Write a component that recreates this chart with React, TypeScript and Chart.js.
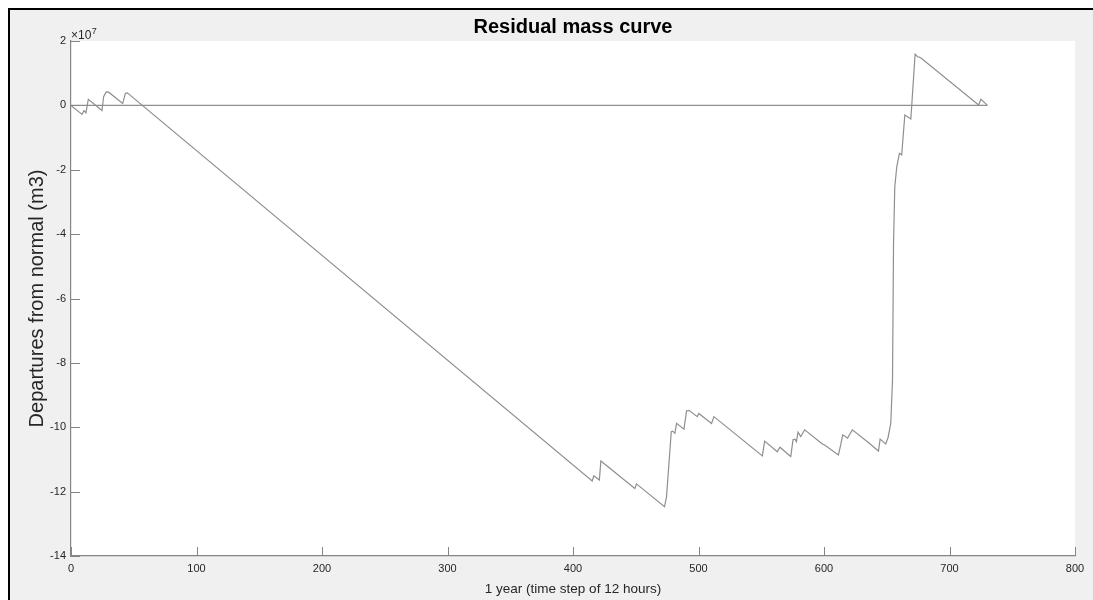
import { useEffect, useRef } from "react";
import { Chart, registerables } from "chart.js";

Chart.register(...registerables);

const TITLE = "Residual mass curve";
const X_LABEL = "1 year (time step of 12 hours)";
const Y_LABEL = "Departures from normal (m3)";
const Y_EXPONENT = 7;

const X_TICKS = [0, 100, 200, 300, 400, 500, 600, 700, 800];
const Y_TICKS = [-14, -12, -10, -8, -6, -4, -2, 0, 2];

// time step index (12 h steps)
const timeSteps = [
  0, 8.8, 10.4, 11.9, 13.8, 24.7, 26, 28, 30, 41.2, 43.3, 44.9,
  415.3, 416.6, 421, 422.2, 449.3, 450.6, 472.9, 474.5, 478.3, 479.4,
  481.2, 482.5, 488.4, 490.5, 492.6, 499, 500.3, 510.4, 512.3, 550.9,
  552.7, 562.8, 564.9, 573.5, 575.3, 576.9, 578, 579.3, 581.5, 584.6,
  598.7, 600.5, 611.5, 613.3, 614.9, 616.5, 618.7, 622.6, 634.6, 643.4,
  644.7, 649.2, 651.1, 653.2, 654.6, 655.4, 656.4, 658, 660.1, 661.9,
  664.4, 669.2, 672.6, 674.5, 676, 678, 723.2, 725, 730.3,
];

// departures from normal, in units of 1e7 m3
const departuresE7 = [
  0, -0.28, -0.16, -0.23, 0.19, -0.16, 0.27, 0.42, 0.41, 0.06, 0.37, 0.39,
  -11.67, -11.51, -11.64, -11.05, -11.9, -11.76, -12.47, -12.17, -10.14, -10.12,
  -10.19, -9.88, -10.06, -9.49, -9.48, -9.67, -9.57, -9.88, -9.67, -10.89,
  -10.43, -10.76, -10.62, -10.91, -10.39, -10.37, -10.45, -10.15, -10.29, -10.08,
  -10.52, -10.55, -10.86, -10.55, -10.24, -10.27, -10.34, -10.08, -10.45, -10.74,
  -10.37, -10.52, -10.31, -9.88, -8.53, -4.3, -2.53, -1.9, -1.49, -1.54,
  -0.3, -0.42, 1.59, 1.51, 1.5, 1.45, 0.01, 0.19, 0,
];

const zeroLineX = [0, 730];
const zeroLineY = [0, 0];

const FONT = '"Liberation Sans", Arial, Helvetica, sans-serif';
const AXIS_COLOR = "#858585";
const LINE_COLOR = "#8f8f8f";
const TEXT_COLOR = "#262626";

const decorations = {
  id: "decorations",
  beforeDraw(chart: any) {
    const { ctx, chartArea } = chart;
    ctx.save();
    ctx.fillStyle = "#ffffff";
    ctx.fillRect(chartArea.left, chartArea.top, chartArea.right - chartArea.left, chartArea.bottom - chartArea.top);
    ctx.restore();
  },
  afterDraw(chart: any) {
    const { ctx, chartArea, scales } = chart;
    ctx.save();
    ctx.strokeStyle = AXIS_COLOR;
    ctx.lineWidth = 1;
    ctx.beginPath();
    for (const v of X_TICKS) {
      const px = Math.round(scales.x.getPixelForValue(v)) + 0.5;
      ctx.moveTo(px, chartArea.bottom);
      ctx.lineTo(px, chartArea.bottom - 9);
    }
    for (const v of Y_TICKS) {
      const py = Math.round(scales.y.getPixelForValue(v)) + 0.5;
      ctx.moveTo(chartArea.left, py);
      ctx.lineTo(chartArea.left + 9, py);
    }
    ctx.stroke();
    ctx.fillStyle = TEXT_COLOR;
    ctx.textAlign = "left";
    ctx.textBaseline = "alphabetic";
    ctx.font = `12px ${FONT}`;
    const base = "\u00d710";
    ctx.fillText(base, chartArea.left, chartArea.top - 2);
    const w = ctx.measureText(base).width;
    ctx.font = `9px ${FONT}`;
    ctx.fillText(String(Y_EXPONENT), chartArea.left + w + 0.5, chartArea.top - 7);
    ctx.restore();
  },
};

export default function App() {
  const canvasRef = useRef<HTMLCanvasElement | null>(null);

  useEffect(() => {
    const canvas = canvasRef.current;
    if (!canvas) return;
    const mainData = timeSteps.map((x, i) => ({ x, y: departuresE7[i] }));
    const zeroData = zeroLineX.map((x, i) => ({ x, y: zeroLineY[i] }));
    const chart = new Chart(canvas, {
      type: "line",
      data: {
        datasets: [
          {
            label: "zero",
            data: zeroData,
            borderColor: LINE_COLOR,
            borderWidth: 1.2,
            pointRadius: 0,
            tension: 0,
          },
          {
            label: "Residual mass",
            data: mainData,
            borderColor: LINE_COLOR,
            borderWidth: 1.2,
            pointRadius: 0,
            tension: 0,
          },
        ],
      },
      options: {
        animation: false,
        responsive: false,
        events: [],
        layout: { padding: { left: 0, right: 18, top: 0, bottom: 0 } },
        plugins: {
          legend: { display: false },
          tooltip: { enabled: false },
          title: {
            display: true,
            text: TITLE,
            fullSize: false,
            color: "#000000",
            font: { family: FONT, size: 20, weight: "bold", lineHeight: 1.2 },
            padding: { top: 5, bottom: 2 },
          },
        },
        scales: {
          x: {
            type: "linear",
            min: 0,
            max: 800,
            afterBuildTicks: (scale: any) => {
              scale.ticks = X_TICKS.map((v) => ({ value: v }));
            },
            afterFit: (scale: any) => {
              scale.height = 44;
            },
            grid: { display: true, drawOnChartArea: false, drawTicks: false },
            border: { display: true, color: AXIS_COLOR, width: 1.2 },
            ticks: {
              color: TEXT_COLOR,
              font: { family: FONT, size: 11 },
              padding: 6,
              maxRotation: 0,
              autoSkip: false,
              callback: (v: any) => String(v),
            },
            title: {
              display: true,
              text: X_LABEL,
              color: TEXT_COLOR,
              font: { family: FONT, size: 13.5 },
              padding: { top: 0, bottom: 3 },
            },
          },
          y: {
            type: "linear",
            min: -14,
            max: 2,
            afterBuildTicks: (scale: any) => {
              scale.ticks = Y_TICKS.map((v) => ({ value: v }));
            },
            afterFit: (scale: any) => {
              scale.width = 61;
            },
            grid: { display: true, drawOnChartArea: false, drawTicks: false },
            border: { display: true, color: AXIS_COLOR, width: 1.2 },
            ticks: {
              color: TEXT_COLOR,
              font: { family: FONT, size: 11 },
              padding: 5,
              autoSkip: false,
              callback: (v: any) => String(v),
            },
            title: {
              display: true,
              text: Y_LABEL,
              color: TEXT_COLOR,
              font: { family: FONT, size: 20 },
              padding: { top: 15, bottom: 0 },
            },
          },
        },
      },
      plugins: [decorations],
    });
    return () => chart.destroy();
  }, []);

  return (
    <div
      style={{
        position: "fixed",
        left: 8,
        top: 8,
        width: 1085,
        height: 592,
        boxSizing: "border-box",
        borderLeft: "2px solid #000",
        borderTop: "2px solid #000",
        background: "#f0f0f0",
        overflow: "hidden",
      }}
    >
      <canvas ref={canvasRef} width={1083} height={590} style={{ display: "block" }} />
    </div>
  );
}
